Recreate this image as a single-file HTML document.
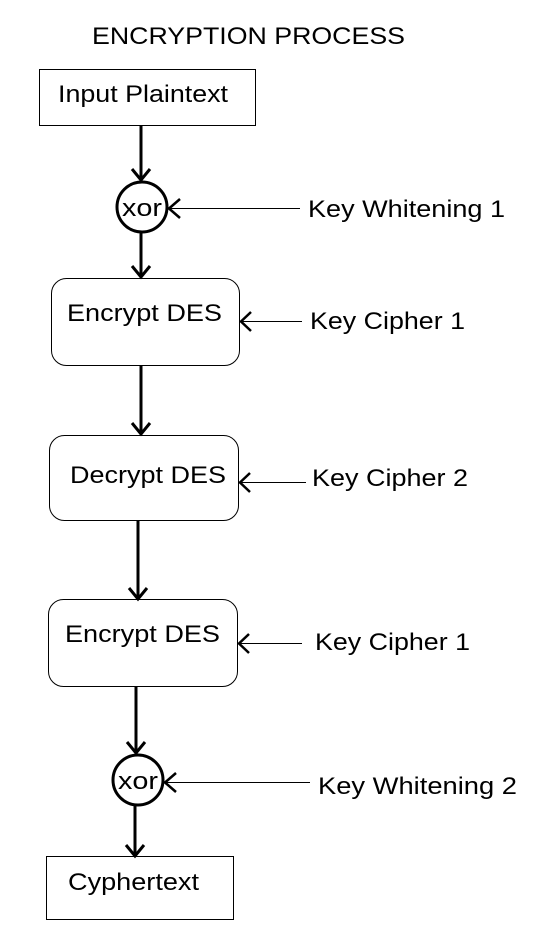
<!DOCTYPE html>
<html><head><meta charset="utf-8"><style>
html,body{margin:0;padding:0;background:#fff;}
svg{display:block;font-family:"Liberation Sans",Arial,sans-serif;}
text{font-size:24px;fill:#000;}
</style></head><body>
<svg width="536" height="936" viewBox="0 0 536 936" xmlns="http://www.w3.org/2000/svg">
<rect width="536" height="936" fill="#fff"/>
<text x="92" y="44" textLength="313" lengthAdjust="spacingAndGlyphs">ENCRYPTION PROCESS</text>

<rect x="39.5" y="69.5" width="216" height="56" fill="none" stroke="#000" stroke-width="1"/>
<text x="58" y="102" textLength="170" lengthAdjust="spacingAndGlyphs">Input Plaintext</text>

<g stroke="#000" stroke-width="3" fill="none">
<line x1="141" y1="125" x2="141" y2="180"/>
<polyline points="132,169 141,180 150,169"/>
<circle cx="142" cy="207" r="25"/>
<line x1="141" y1="232" x2="141" y2="277"/>
<polyline points="132,266 141,277 150,266"/>
<line x1="141" y1="366" x2="141" y2="434"/>
<polyline points="132,423 141,434 150,423"/>
<line x1="138" y1="521" x2="138" y2="599"/>
<polyline points="129,588 138,599 147,588"/>
<line x1="136" y1="686" x2="136" y2="753"/>
<polyline points="127,742 136,753 145,742"/>
<circle cx="138" cy="780" r="25"/>
<line x1="135" y1="805" x2="135" y2="856"/>
<polyline points="126,845 135,856 144,845"/>
</g>

<g stroke="#000" stroke-width="1" fill="none">
<rect x="51.5" y="278.5" width="188" height="87" rx="15"/>
<rect x="49.5" y="435.5" width="189" height="85" rx="15"/>
<rect x="48.5" y="599.5" width="189" height="87" rx="15"/>
<rect x="46.5" y="856.5" width="187" height="63"/>
<line x1="168" y1="208.5" x2="300" y2="208.5"/>
<line x1="240" y1="321.5" x2="302" y2="321.5"/>
<line x1="239" y1="482.5" x2="306" y2="482.5"/>
<line x1="238" y1="643.5" x2="302" y2="643.5"/>
<line x1="164" y1="782.5" x2="310" y2="782.5"/>
</g>
<g stroke="#000" stroke-width="2.5" fill="none">
<polyline points="180,199 169,208.5 180,218"/>
<polyline points="251,312 241,321.5 251,331"/>
<polyline points="250,473 240,482.5 250,492"/>
<polyline points="249,634 239,643.5 249,653"/>
<polyline points="176,773 165,782.5 176,792"/>
</g>

<text x="122" y="216" textLength="40" lengthAdjust="spacingAndGlyphs">xor</text>
<text x="118" y="789" textLength="40" lengthAdjust="spacingAndGlyphs">xor</text>
<text x="67" y="321" textLength="155" lengthAdjust="spacingAndGlyphs">Encrypt DES</text>
<text x="70" y="483" textLength="156" lengthAdjust="spacingAndGlyphs">Decrypt DES</text>
<text x="65" y="642" textLength="155" lengthAdjust="spacingAndGlyphs">Encrypt DES</text>
<text x="68" y="890" textLength="131" lengthAdjust="spacingAndGlyphs">Cyphertext</text>

<text x="308" y="217" textLength="197" lengthAdjust="spacingAndGlyphs">Key Whitening 1</text>
<text x="310" y="329" textLength="155" lengthAdjust="spacingAndGlyphs">Key Cipher 1</text>
<text x="312" y="486" textLength="156" lengthAdjust="spacingAndGlyphs">Key Cipher 2</text>
<text x="315" y="650" textLength="155" lengthAdjust="spacingAndGlyphs">Key Cipher 1</text>
<text x="318" y="794" textLength="199" lengthAdjust="spacingAndGlyphs">Key Whitening 2</text>
</svg>
</body></html>
